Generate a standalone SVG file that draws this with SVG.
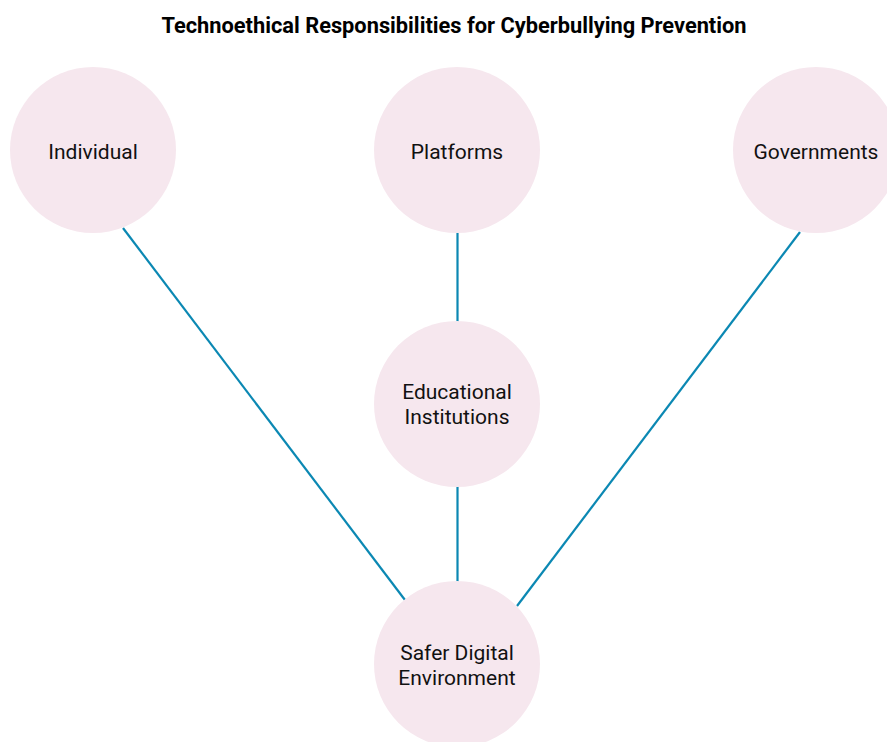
<svg xmlns="http://www.w3.org/2000/svg" width="887" height="742" viewBox="0 0 887 742">
  <style>
    .node circle { fill: #f6e7ee; }
    .node text { font-family: Roboto, "Liberation Sans", sans-serif; font-size: 21px; fill: #111; text-anchor: middle; }
    .edge { stroke: #0b88b3; stroke-width: 2.2; fill: none; }
    .title { font-family: Roboto, "Liberation Sans", sans-serif; font-size: 21.8px; font-weight: bold; fill: #000; text-anchor: middle; }
  </style>
  <rect width="887" height="742" fill="#fff"/>
  <text class="title" x="454" y="33">Technoethical Responsibilities for Cyberbullying Prevention</text>

  <g id="connectors">
    <line class="edge" x1="123" y1="228" x2="405" y2="600"/>
    <line class="edge" x1="457.5" y1="233" x2="457.5" y2="322"/>
    <line class="edge" x1="457.5" y1="486" x2="457.5" y2="582"/>
    <line class="edge" x1="800" y1="232" x2="517" y2="606"/>
  </g>

  <g id="individual" class="node">
    <circle cx="93" cy="150" r="83"/>
    <text x="93" y="159">Individual</text>
  </g>
  <g id="platforms" class="node">
    <circle cx="457" cy="150" r="83"/>
    <text x="457" y="159">Platforms</text>
  </g>
  <g id="governments" class="node">
    <circle cx="816" cy="150" r="83"/>
    <text x="816" y="159">Governments</text>
  </g>
  <g id="educational-institutions" class="node">
    <circle cx="457" cy="404" r="83"/>
    <text x="457" y="399">Educational</text>
    <text x="457" y="424">Institutions</text>
  </g>
  <g id="safer-digital-environment" class="node">
    <circle cx="457" cy="664" r="83"/>
    <text x="457" y="660">Safer Digital</text>
    <text x="457" y="685">Environment</text>
  </g>
</svg>
